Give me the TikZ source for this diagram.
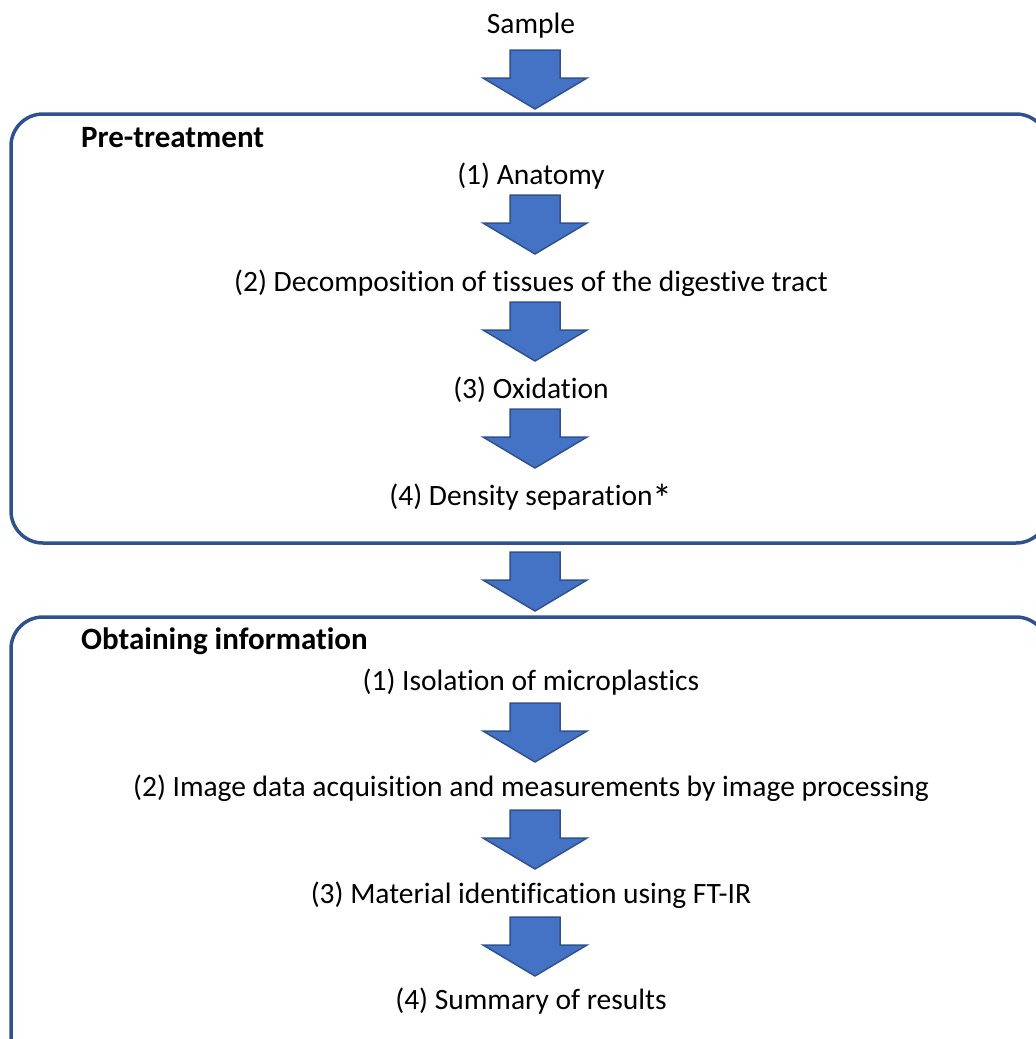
\documentclass[tikz,border=0pt]{standalone}
\usepackage{fontspec}
\setmainfont{Carlito}[Ligatures={NoCommon}]
\definecolor{arrowfill}{HTML}{4472C4}
\definecolor{arrowline}{HTML}{2F528F}
\begin{document}
\begin{tikzpicture}[x=1pt,y=-1pt,
  lbl/.style={font=\fontsize{29.5}{34}\selectfont, inner sep=0pt, anchor=center},
  ttl/.style={font=\fontsize{31}{36}\selectfont\bfseries, inner sep=0pt, anchor=west},
  framebox/.style={draw=arrowline, line width=3.5pt, rounded corners=32pt},
  blockarrow/.pic={\draw[fill=arrowfill, draw=arrowline, line width=1.5pt, line join=miter]
     (-25,0) -- (25,0) -- (25,28) -- (52,28) -- (0,59) -- (-52,28) -- (-25,28) -- cycle;}
]
\useasboundingbox (0,0) rectangle (1036,1039);
\clip (0,0) rectangle (1036,1039);
% frames
\draw[framebox] (11,114) rectangle (1048,543);
\draw[framebox] (11,617) rectangle (1048,1070);
% texts
\node[lbl] (sample) at (531,26) {Sample};
\node[ttl] (pre) at (81,138) {Pre-treatment};
\node[lbl] (p1) at (531,176) {(1) Anatomy};
\node[lbl] (p2) at (531,283) {(2) Decomposition of tissues of the digestive tract};
\node[lbl] (p3) at (531,390) {(3) Oxidation};
\node[lbl, anchor=base] (p4) at (531,505) {(4) Density separation\raisebox{-7pt}{\fontsize{40}{40}\selectfont *}};
\node[ttl] (obt) at (81,641) {Obtaining information};
\node[lbl] (o1) at (531,682) {(1) Isolation of microplastics};
\node[lbl] (o2) at (531,788) {(2) Image data acquisition and measurements by image processing};
\node[lbl] (o3) at (531,895) {(3) Material identification using FT-IR};
\node[lbl] (o4) at (531,1001) {(4) Summary of results};
% block arrows
\pic (a1) at (535,50) {blockarrow};
\pic (a2) at (535,195) {blockarrow};
\pic (a3) at (535,302) {blockarrow};
\pic (a4) at (535,409) {blockarrow};
\pic (a5) at (535,552) {blockarrow};
\pic (a6) at (535,703) {blockarrow};
\pic (a7) at (535,810) {blockarrow};
\pic (a8) at (535,917) {blockarrow};
\end{tikzpicture}
\end{document}
